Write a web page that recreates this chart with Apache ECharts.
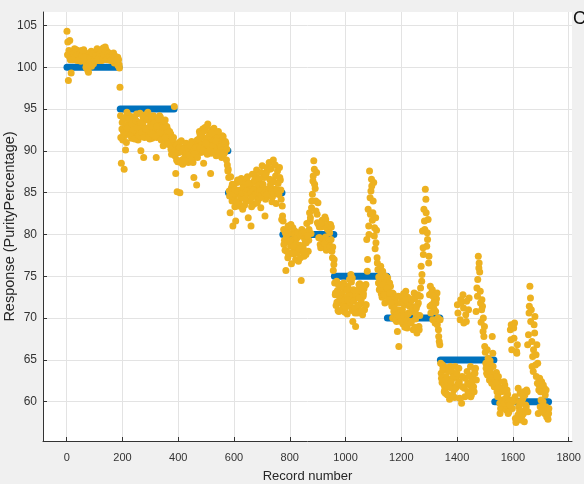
<!DOCTYPE html>
<html>
<head>
<meta charset="utf-8">
<script src="https://cdn.jsdelivr.net/npm/echarts@6/dist/echarts.min.js"></script>
<style>
  html, body { margin: 0; padding: 0; background: #f0f0f0; }
  #chart { width: 584px; height: 484px; }
</style>
</head>
<body>
<div id="chart"></div>
<script>
// ---- data ----
const xTicks = [0, 200, 400, 600, 800, 1000, 1200, 1400, 1600, 1800];
const yTicks = [60, 65, 70, 75, 80, 85, 90, 95, 100, 105];

// true response: flat levels between record numbers
const trueStart = [1, 192, 385, 580, 775, 960, 1150, 1340, 1535];
const trueEnd   = [188, 385, 578, 772, 958, 1148, 1338, 1532, 1728];
const trueLevel = [100, 95, 90, 85, 80, 75, 70, 65, 60];

const recordStep = 5;

// predicted response, records 1, 6, 11, ...
const firstRecordA = 1;
const predictedA = [
  // ~100 block
  104.3, 98.4, 103.2, 99.3, 101.2, 101.8, 100.9, 102.0, 101.3, 101.9,
  100.7, 101.6, 102.1, 101.0, 100.3, 99.6, 101.4, 100.8, 101.7, 100.4,
  101.2, 101.8, 100.8, 101.5, 100.9, 100.8, 102.3, 101.7, 102.1, 101.0,
  100.9, 101.6, 100.9, 101.4, 100.5, 101.2, 100.6, 100.9,
  // ~95 block
  97.6, 88.5, 91.3, 87.8, 90.1, 94.6, 93.2, 92.4, 94.1, 91.6,
  93.5, 92.0, 94.4, 91.3, 93.0, 90.0, 92.6, 89.2, 93.8, 91.8,
  94.6, 92.3, 93.4, 91.5, 94.2, 92.8, 89.2, 93.6, 91.9, 94.0,
  92.5, 90.6, 93.1, 91.4, 92.6, 90.8, 91.9, 89.6, 91.0,
  // ~90 block
  95.3, 87.3, 85.1, 89.8, 85.0, 91.2, 88.4, 90.3, 89.1, 90.8,
  88.6, 90.1, 89.3, 91.0, 86.8, 89.6, 85.9, 90.7, 92.3, 89.8,
  91.6, 88.5, 92.8, 90.4, 93.2, 91.1, 87.3, 92.5, 90.0, 91.8,
  89.4, 92.0, 90.6, 91.4, 89.2, 91.7, 89.8, 90.9, 88.3,
  // ~85 block
  86.8, 82.6, 85.6, 81.0, 84.3, 81.6, 86.2, 83.4, 85.3, 86.7,
  83.0, 85.8, 84.2, 86.4, 82.0, 84.9, 81.0, 87.2, 83.6, 85.5,
  87.7, 84.1, 86.3, 83.2, 88.2, 85.0, 82.2, 87.4, 84.6, 88.6,
  86.0, 83.9, 88.9, 85.4, 83.7, 87.6, 84.8, 86.5, 81.8,
  // ~80 block
  81.6, 79.3, 75.7, 80.4, 77.6, 79.0, 76.5, 80.8, 78.2, 77.0,
  79.6, 76.8, 78.7, 74.5, 80.2, 77.4, 79.1, 81.3, 78.0, 82.6,
  80.1, 84.8, 88.8, 85.5, 87.4, 83.8, 80.9, 78.4, 81.7, 79.2,
  82.1, 78.1, 80.6, 79.0, 81.2, 78.0, 75.7,
  // ~75 block
  74.2, 71.5, 73.3, 70.8, 72.6, 74.0, 71.2, 73.6, 72.0, 70.5,
  73.1, 71.7, 74.3, 69.6, 72.4, 69.0, 73.0, 71.0, 74.1, 72.2,
  70.4, 73.5, 71.6, 79.4, 83.0, 87.6, 85.2, 81.7, 86.2, 78.3,
  80.5, 75.8, 73.4, 76.2, 72.5, 74.6, 71.8, 73.9,
  // ~70 block
  74.8, 72.6, 73.8, 71.4, 72.9, 70.2, 71.8, 68.4, 66.6, 70.9,
  72.4, 69.3, 71.6, 73.2, 68.8, 70.6, 72.1, 69.6, 71.3, 73.0,
  69.9, 68.2, 71.8, 70.3, 76.2, 80.4, 83.0, 85.4, 78.6, 81.8,
  72.8, 70.6, 73.4, 71.2, 69.4, 72.3, 70.0, 67.2,
  // ~65 block
  64.6, 62.3, 63.8, 61.5, 63.0, 60.8, 62.6, 64.2, 61.9, 63.4,
  60.5, 62.9, 71.6, 64.0, 69.8, 59.8, 72.8, 61.6, 70.4, 63.6,
  71.0, 62.0, 60.8, 63.2, 61.2, 64.0, 73.6, 77.4, 75.5, 69.5,
  71.4, 67.8, 65.9, 63.4, 65.2, 62.6, 64.4, 67.8, 63.0,
  // ~60 block
  61.8, 63.5, 60.6, 62.4, 59.2, 61.4, 60.0, 62.0, 59.0, 60.9,
  58.8, 68.6, 66.2, 60.0, 69.4, 57.5, 66.8, 59.4, 61.0, 58.2,
  60.4, 57.6, 59.6, 61.2, 68.0, 73.8, 71.0, 65.4, 69.2, 64.4,
  66.8, 58.6, 62.8, 60.2, 61.8, 59.0, 60.8, 58.2, 57.9
];

// predicted response, records 3, 8, 13, ...
const firstRecordB = 3;
const predictedB = [
  // ~100 block
  101.5, 102.0, 100.9, 101.8, 100.9, 102.2, 101.4, 100.8, 101.9, 101.1,
  102.0, 100.8, 101.3, 101.7, 100.2, 99.4, 100.4, 101.9, 101.0, 101.5,
  100.9, 102.0, 101.3, 100.8, 101.8, 100.9, 101.9, 102.4, 101.2, 101.8,
  100.9, 101.3, 100.8, 101.7, 101.0, 100.6, 101.2, 100.3,
  // ~95 block
  94.2, 92.6, 93.8, 91.8, 93.0, 94.4, 92.2, 93.6, 91.5, 92.9,
  94.0, 91.9, 93.3, 92.4, 94.5, 91.7, 93.1, 92.0, 94.3, 92.7,
  93.9, 91.4, 92.8, 94.1, 92.3, 93.5, 91.6, 92.9, 94.2, 91.8,
  93.3, 92.1, 93.7, 91.2, 92.4, 90.9, 92.0, 90.4, 91.6,
  // ~90 block
  89.4, 90.6, 88.7, 91.0, 89.9, 88.9, 90.4, 89.2, 90.9, 88.8,
  90.2, 89.6, 91.1, 88.6, 90.0, 89.4, 91.3, 90.1, 92.0, 90.8,
  92.6, 89.9, 91.5, 92.9, 90.6, 92.2, 89.7, 91.3, 92.7, 90.2,
  91.6, 89.5, 91.0, 90.3, 91.8, 89.6, 90.5, 88.9, 87.6,
  // ~85 block
  85.2, 86.9, 84.0, 85.9, 83.3, 84.8, 86.5, 83.8, 85.0, 84.4,
  86.0, 83.5, 85.4, 86.9, 84.0, 85.7, 83.3, 86.2, 84.7, 87.0,
  83.8, 85.9, 84.4, 87.4, 85.6, 86.8, 84.2, 88.0, 85.1, 86.6,
  87.9, 84.5, 86.3, 88.3, 84.9, 86.1, 88.0, 85.3, 83.4,
  // ~80 block
  80.6, 78.1, 79.8, 77.2, 80.1, 78.6, 79.4, 77.7, 80.4, 78.9,
  77.8, 79.9, 77.2, 80.6, 78.4, 79.5, 77.6, 80.0, 79.3, 81.6,
  83.2, 86.4, 87.8, 84.0, 82.4, 81.2, 79.6, 80.9, 78.8, 81.0,
  79.7, 80.8, 78.6, 80.2, 79.4, 77.2, 76.4,
  // ~75 block
  72.8, 74.4, 70.9, 73.0, 71.8, 72.9, 74.2, 70.7, 72.5, 73.8,
  71.4, 72.8, 70.9, 73.4, 71.2, 72.7, 70.6, 74.0, 71.7, 73.2,
  72.6, 71.0, 74.0, 75.6, 81.0, 84.4, 86.6, 82.6, 79.8, 82.0,
  77.2, 74.2, 75.0, 72.9, 75.6, 73.2, 72.6, 74.3,
  // ~70 block
  73.4, 74.2, 72.2, 73.0, 70.8, 72.2, 69.6, 71.0, 69.9, 71.8,
  70.1, 72.9, 68.9, 70.4, 72.5, 69.5, 71.9, 70.8, 68.6, 72.4,
  70.5, 71.6, 69.0, 72.6, 74.4, 78.4, 81.6, 84.2, 80.2, 76.6,
  71.4, 73.0, 69.8, 72.0, 70.8, 73.0, 68.6, 66.8,
  // ~65 block
  63.4, 64.4, 62.0, 61.0, 64.1, 62.2, 60.3, 63.8, 62.8, 61.4,
  64.2, 61.8, 70.6, 62.4, 72.2, 63.0, 71.2, 60.6, 69.6, 62.2,
  72.4, 64.2, 61.4, 62.8, 63.8, 70.8, 72.6, 76.0, 73.2, 71.0,
  68.4, 69.0, 64.6, 66.2, 63.8, 64.9, 62.8, 65.8, 61.8,
  // ~60 block
  62.6, 61.2, 63.0, 59.8, 61.6, 60.2, 62.4, 59.6, 61.0, 58.6,
  60.2, 67.4, 59.2, 68.8, 60.6, 66.0, 58.4, 60.0, 57.8, 59.8,
  58.6, 60.8, 59.4, 66.8, 70.6, 72.4, 67.2, 63.6, 68.2, 65.6,
  62.2, 61.4, 59.4, 62.4, 60.0, 61.6, 59.4, 59.0, 58.6
];

// predicted response, records 4, 9, 14, ...
const firstRecordC = 4;
const predictedC = [
  // ~100 block
  103.0, 101.3, 101.9, 100.9, 101.6, 101.2, 102.1, 101.5, 100.9, 101.7,
  101.4, 102.0, 101.2, 100.0, 99.8, 100.2, 101.1, 100.1, 101.6, 100.9,
  101.4, 102.2, 101.1, 101.6, 102.0, 101.0, 101.5, 101.9, 100.9, 101.6,
  101.3, 100.8, 101.5, 100.9, 101.3, 100.9, 100.2, 99.9,
  // ~95 block
  91.6, 93.4, 92.2, 93.9, 91.0, 92.7, 93.8, 91.9, 93.2, 92.5,
  91.4, 93.6, 92.8, 91.8, 93.4, 92.2, 94.0, 91.6, 92.6, 93.7,
  91.6, 92.9, 94.1, 92.0, 93.3, 91.7, 92.9, 93.8, 92.2, 91.3,
  92.8, 93.6, 91.6, 92.9, 90.8, 92.3, 90.2, 91.4, 89.6,
  // ~90 block
  90.0, 88.9, 89.8, 90.4, 88.6, 89.9, 90.2, 88.8, 89.7, 90.3,
  89.5, 90.6, 88.9, 90.0, 89.7, 90.4, 89.2, 91.4, 90.3, 91.9,
  90.0, 92.4, 90.9, 89.6, 91.7, 90.1, 92.1, 90.6, 89.9, 91.2,
  90.0, 92.3, 89.9, 90.5, 90.1, 89.7, 91.1, 90.2, 87.8,
  // ~85 block
  84.6, 85.2, 86.0, 84.9, 85.4, 83.9, 85.1, 86.3, 84.5, 85.0,
  85.6, 84.3, 85.2, 84.8, 86.1, 85.0, 84.4, 85.3, 86.5, 84.9,
  85.1, 86.7, 85.2, 84.7, 86.0, 85.0, 87.2, 84.8, 85.5, 87.8,
  85.2, 86.4, 84.9, 87.0, 85.3, 84.8, 86.8, 84.2, 82.2,
  // ~80 block
  78.8, 80.2, 78.0, 81.0, 79.2, 81.2, 77.8, 78.6, 80.0, 79.6,
  80.2, 78.3, 79.8, 80.1, 77.9, 80.3, 79.0, 79.8, 80.6, 82.0,
  84.0, 87.0, 86.0, 82.8, 81.4, 79.6, 78.8, 81.4, 78.7, 78.9,
  81.8, 78.4, 81.2, 78.6, 80.9, 78.5, 77.0,
  // ~75 block
  73.0, 71.9, 74.0, 72.3, 70.9, 73.7, 72.1, 71.3, 73.4, 72.2,
  74.6, 75.2, 74.8, 72.0, 70.6, 73.3, 71.5, 72.4, 73.8, 70.9,
  72.9, 73.9, 71.6, 77.0, 80.0, 82.4, 85.8, 84.0, 80.8, 79.0,
  76.6, 74.9, 73.6, 75.4, 74.0, 72.8, 75.0, 73.6,
  // ~70 block
  72.2, 73.0, 71.8, 70.0, 71.2, 69.8, 70.4, 72.6, 70.2, 69.6,
  71.0, 70.3, 72.2, 69.8, 70.5, 71.4, 69.4, 71.2, 72.3, 68.9,
  71.2, 72.8, 68.6, 73.6, 75.2, 77.6, 80.6, 82.6, 79.4, 77.4,
  73.8, 71.6, 72.6, 70.9, 71.8, 69.2, 67.8, 69.8,
  // ~65 block
  62.8, 63.9, 61.2, 62.6, 60.9, 63.6, 61.7, 62.4, 60.8, 63.0,
  61.6, 63.4, 62.2, 60.4, 71.8, 61.8, 69.4, 62.8, 72.0, 61.2,
  63.0, 60.6, 62.4, 61.8, 63.4, 62.6, 74.6, 76.6, 71.8, 72.2,
  70.0, 66.6, 64.0, 63.2, 64.8, 63.6, 62.2, 64.2, 62.4,
  // ~60 block
  62.2, 63.0, 61.6, 58.6, 61.2, 60.1, 59.8, 60.4, 61.4, 60.0,
  59.6, 69.2, 60.2, 67.6, 58.0, 65.8, 61.6, 58.9, 61.0, 58.4,
  61.2, 59.0, 61.4, 58.8, 71.4, 69.6, 64.2, 66.2, 70.2, 63.0,
  64.6, 62.0, 61.2, 58.8, 62.0, 58.6, 61.4, 58.4, 59.2
];

// ---- build chart ----
const toPoints = (vals, first) => vals.map((v, i) => [first + i * recordStep, v]);
const predData = toPoints(predictedA, firstRecordA)
  .concat(toPoints(predictedB, firstRecordB))
  .concat(toPoints(predictedC, firstRecordC));

const trueSeries = trueLevel.map((lvl, i) => ({
  type: 'line',
  data: [[trueStart[i], lvl], [trueEnd[i], lvl]],
  showSymbol: false,
  silent: true,
  lineStyle: { color: '#0072BD', width: 7, cap: 'round' },
  z: 2
}));

const chart = echarts.init(document.getElementById('chart'), null, { renderer: 'canvas' });
chart.setOption({
  animation: false,
  backgroundColor: '#f0f0f0',
  grid: {
    left: 43, right: 12, top: 12, bottom: 43,
    outerBoundsMode: 'none', containLabel: false,
    show: true, backgroundColor: '#ffffff', borderWidth: 0
  },
  graphic: [{
    type: 'text', left: 573, top: 10,
    style: { text: 'C', fill: '#111', font: '18px "Liberation Sans", Arial, sans-serif' }
  }],
  xAxis: {
    type: 'value', min: -85, max: 1812,
    name: 'Record number', nameLocation: 'middle', nameGap: 29, nameMoveOverlap: false,
    nameTextStyle: { color: '#262626', fontSize: 13, fontFamily: 'Liberation Sans' },
    axisLine: { show: true, onZero: false, lineStyle: { color: '#333', width: 1 } },
    axisTick: { show: true, inside: true, length: 4, customValues: xTicks, lineStyle: { color: '#333' } },
    axisLabel: { customValues: xTicks, formatter: v => String(v), color: '#333', fontSize: 11, fontFamily: 'Liberation Sans', margin: 11 },
    splitLine: { show: true, lineStyle: { color: '#e3e3e3', width: 1 } }
  },
  yAxis: {
    type: 'value', min: 55.3, max: 106.6,
    name: 'Response (PurityPercentage)', nameLocation: 'middle', nameGap: 26, nameRotate: 90, nameMoveOverlap: false,
    nameTextStyle: { color: '#262626', fontSize: 14.5, fontFamily: 'Liberation Sans' },
    axisLine: { show: true, onZero: false, lineStyle: { color: '#333', width: 1 } },
    axisTick: { show: true, inside: true, length: 4, customValues: yTicks, lineStyle: { color: '#333' } },
    axisLabel: { customValues: yTicks, formatter: v => String(v), color: '#333', fontSize: 12, fontFamily: 'Liberation Sans', margin: 6 },
    splitLine: { show: true, lineStyle: { color: '#e3e3e3', width: 1 } }
  },
  series: trueSeries.concat([{
    type: 'scatter',
    data: predData,
    symbol: 'circle',
    symbolSize: 7,
    itemStyle: { color: '#EDB120', opacity: 1 },
    z: 3
  }])
});
</script>
</body>
</html>
